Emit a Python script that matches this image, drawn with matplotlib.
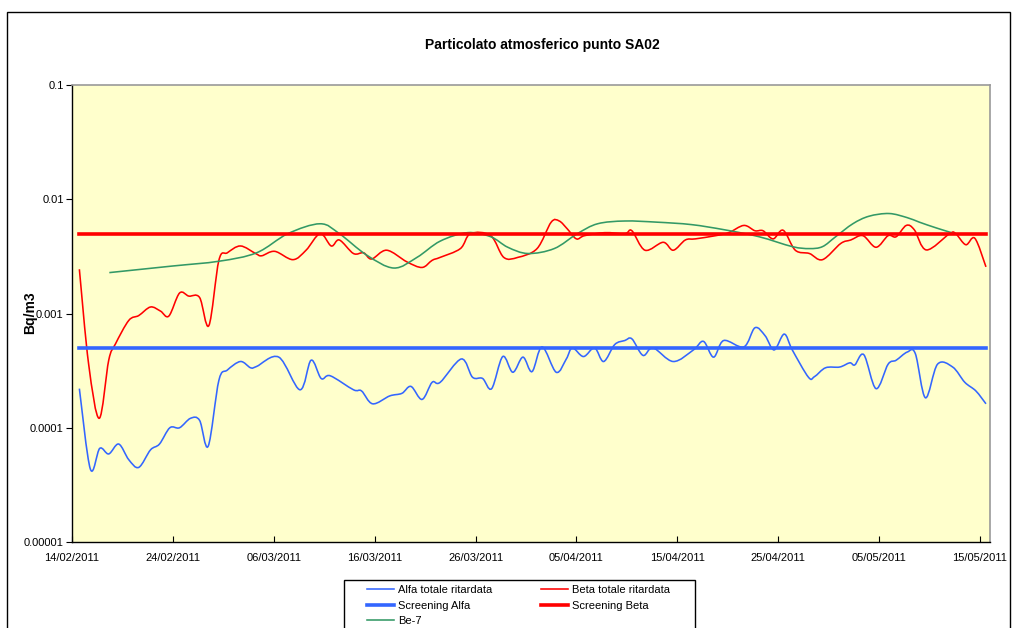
"""
Particolato atmosferico punto SA02: alfa / beta totale ritardata, screening levels and Be-7.
Excel style log chart, values read off the original sheet chart.
"""

import matplotlib

matplotlib.use("Agg")

import math

import matplotlib.dates as mdates
import matplotlib.pyplot as plt
import pandas as pd
from matplotlib.lines import Line2D
from matplotlib.patches import PathPatch, Rectangle
from matplotlib.path import Path
from matplotlib.ticker import FixedLocator, FixedFormatter, NullLocator

plt.rcParams["font.family"] = ["Liberation Sans", "DejaVu Sans"]

START = pd.Timestamp("2011-02-14")
END = pd.Timestamp("2011-05-16")

# days after 14/02/2011
alfa_days = [0.73, 1.82, 2.75, 3.64, 4.63, 5.63, 6.62, 7.78, 8.67, 9.7, 10.66, 11.75, 12.65, 13.5,
             14.56, 15.4, 16.7, 17.7, 18.3, 20.5, 22.6, 23.7, 24.7, 25.6, 27.9, 28.7, 29.8, 31.5,
             32.7, 33.6, 34.7, 35.7, 36.5, 38.6, 39.7, 40.7, 41.6, 42.7, 43.7, 44.7, 45.6, 46.6,
             48.0, 49.0, 49.6, 50.7, 51.8, 52.7, 53.8, 54.8, 55.5, 56.6, 57.6, 59.6, 61.6, 62.6,
             63.6, 64.6, 66.6, 67.7, 68.7, 69.6, 70.6, 71.4, 73.0, 73.6, 74.7, 76.1, 77.1, 77.6,
             78.5, 79.7, 80.9, 81.7, 82.8, 83.6, 84.6, 85.8, 87.3, 88.5, 89.6, 90.6]
# Bq/m3 x 1e-4
alfa_vals = [2.2, 0.435, 0.66, 0.59, 0.72, 0.525, 0.45, 0.64, 0.72, 1.0, 1.0, 1.21, 1.16, 0.69,
             2.6, 3.2, 3.8, 3.35, 3.44, 4.15, 2.15, 3.9, 2.7, 2.85, 2.15, 2.1, 1.62, 1.9,
             2.0, 2.3, 1.77, 2.5, 2.5, 4.0, 2.77, 2.7, 2.2, 4.2, 3.06, 4.15, 3.1, 5.1,
             3.06, 4.0, 5.0, 4.2, 5.0, 3.8, 5.35, 5.8, 6.0, 4.3, 5.0, 3.8, 4.8, 5.7,
             4.15, 5.8, 5.1, 7.5, 6.4, 4.8, 6.6, 4.8, 2.77, 2.8, 3.35, 3.4, 3.7, 3.55,
             4.35, 2.2, 3.6, 3.9, 4.6, 4.45, 1.83, 3.6, 3.4, 2.5, 2.1, 1.62]

beta_days = [0.73, 1.65, 2.7, 3.64, 4.3, 5.63, 6.62, 7.78, 8.77, 9.6, 10.66, 11.58, 12.65, 13.57,
             14.56, 15.4, 16.7, 18.2, 18.8, 20.1, 21.9, 23.2, 24.6, 25.7, 26.5, 27.9, 28.9, 29.7,
             31.2, 33.2, 34.7, 35.7, 36.5, 38.5, 39.5, 41.5, 42.8, 44.2, 46.1, 47.5, 48.3, 49.1,
             50.0, 50.8, 52.8, 54.8, 55.5, 56.8, 58.6, 59.6, 60.8, 61.8, 63.8, 65.1, 66.6, 67.7,
             68.5, 69.5, 70.5, 71.7, 73.1, 74.4, 76.2, 77.2, 78.4, 79.7, 80.9, 81.7, 82.7, 83.5,
             84.7, 87.0, 87.6, 88.6, 89.5, 90.6]
# Bq/m3 x 1e-3
beta_vals = [2.44, 0.36, 0.121, 0.39, 0.54, 0.87, 0.96, 1.14, 1.05, 0.95, 1.51, 1.42, 1.38, 0.785,
             2.92, 3.4, 3.9, 3.35, 3.2, 3.5, 2.96, 3.58, 5.0, 3.9, 4.4, 3.35, 3.4, 3.0,
             3.58, 2.83, 2.53, 2.92, 3.1, 3.7, 5.0, 4.8, 3.1, 3.1, 3.7, 6.3, 6.45, 5.5,
             4.5, 4.8, 5.1, 5.0, 5.3, 3.58, 4.2, 3.58, 4.4, 4.5, 4.8, 5.1, 5.9, 5.3,
             5.3, 4.5, 5.35, 3.58, 3.35, 2.96, 4.1, 4.4, 4.8, 3.8, 4.8, 4.7, 5.9, 5.4,
             3.6, 5.0, 5.0, 4.0, 4.55, 2.56]

be7_days = [3.7, 9.9, 14.6, 18.3, 21.4, 24.6, 26.5, 29.2, 31.9, 34.2, 36.5, 39.2, 41.5, 43.2,
            45.2, 47.8, 50.1, 52.1, 54.8, 58.0, 61.4, 64.7, 68.1, 71.4, 73.1, 74.4, 75.7, 77.4,
            79.0, 81.0, 82.8, 84.0, 85.7, 87.5]
# Bq/m3 x 1e-3
be7_vals = [2.28, 2.6, 2.87, 3.4, 5.0, 6.1, 5.0, 3.25, 2.5, 3.1, 4.3, 5.1, 4.7, 3.8,
            3.35, 3.7, 5.0, 6.1, 6.45, 6.3, 6.0, 5.4, 4.7, 3.85, 3.7, 3.85, 4.7, 6.1,
            7.1, 7.5, 6.9, 6.3, 5.6, 5.0]

screening_days = [0.73, 90.6]
screening_alfa = 0.0005
screening_beta = 0.005

y_ticks = [0.00001, 0.0001, 0.001, 0.01, 0.1]
y_tick_labels = ["0.00001", "0.0001", "0.001", "0.01", "0.1"]

BLUE = "#3366ff"
RED = "#ff0000"
GREEN = "#339966"


def to_dates(days):
    return START + pd.to_timedelta(days, unit="D")


def smoothed_path(days, values) -> Path:
    """Excel-like 'smoothed line': Catmull-Rom segments as cubic Beziers (log y)."""
    xs = [mdates.date2num(d) for d in to_dates(days)]
    ys = [math.log10(v) for v in values]
    n = len(xs)
    verts = [(xs[0], values[0])]
    codes = [Path.MOVETO]
    for i in range(n - 1):
        x0, y0 = (xs[i - 1], ys[i - 1]) if i > 0 else (xs[i], ys[i])
        x1, y1 = xs[i], ys[i]
        x2, y2 = xs[i + 1], ys[i + 1]
        x3, y3 = (xs[i + 2], ys[i + 2]) if i + 2 < n else (x2, y2)
        c1 = (x1 + (x2 - x0) / 6, y1 + (y2 - y0) / 6)
        c2 = (x2 - (x3 - x1) / 6, y2 - (y3 - y1) / 6)
        for cx, cy in (c1, c2, (x2, y2)):
            verts.append((cx, 10 ** cy))
            codes.append(Path.CURVE4)
    return Path(verts, codes)


def main() -> None:
    fig = plt.figure(figsize=(10.16, 6.28), dpi=100)
    ax = fig.add_axes([72 / 1016, 1 - 542 / 628, 918 / 1016, 457 / 628])
    ax.set_facecolor("#ffffcc")

    thin = 1.15
    thick = 2.6
    ax.add_patch(PathPatch(smoothed_path(alfa_days, [v * 1e-4 for v in alfa_vals]),
                           fill=False, edgecolor=BLUE, lw=thin))
    ax.add_patch(PathPatch(smoothed_path(beta_days, [v * 1e-3 for v in beta_vals]),
                           fill=False, edgecolor=RED, lw=thin))
    ax.plot(to_dates(screening_days), [screening_alfa] * 2, color=BLUE, lw=thick)
    ax.plot(to_dates(screening_days), [screening_beta] * 2, color=RED, lw=thick)
    ax.add_patch(PathPatch(smoothed_path(be7_days, [v * 1e-3 for v in be7_vals]),
                           fill=False, edgecolor=GREEN, lw=thin))

    ax.set_yscale("log")
    ax.set_ylim(y_ticks[0], y_ticks[-1])
    ax.yaxis.set_major_locator(FixedLocator(y_ticks))
    ax.yaxis.set_major_formatter(FixedFormatter(y_tick_labels))
    ax.yaxis.set_minor_locator(NullLocator())

    ax.set_xlim(START, END)
    ax.set_xticks(pd.date_range(START, periods=10, freq="10D"))
    ax.xaxis.set_major_formatter(mdates.DateFormatter("%d/%m/%Y"))

    ax.tick_params(axis="y", direction="out", length=4, width=0.8, labelsize=8, pad=2)
    ax.tick_params(axis="x", direction="in", length=4, width=0.8, labelsize=8, pad=8)
    ax.spines["left"].set_color("black")
    ax.spines["bottom"].set_color("black")
    ax.spines["left"].set_linewidth(1.0)
    ax.spines["bottom"].set_linewidth(1.0)
    for side in ("top", "right"):
        ax.spines[side].set_color("#999999")
        ax.spines[side].set_linewidth(1.2)

    fig.text(30 / 1016, 1 - 313 / 628, "Bq/m3", rotation=90, ha="center", va="center",
             fontsize=10, fontweight="bold")
    fig.text(542 / 1016, 1 - 45 / 628, "Particolato atmosferico punto SA02",
             ha="center", va="center", fontsize=10, fontweight="bold")

    # outer chart frame and legend frame (both run off the bottom of the picture)
    fig.patches.append(Rectangle((7 / 1016, -0.1), 1003 / 1016, 1.1 - 12 / 628,
                                 transform=fig.transFigure, fill=False,
                                 edgecolor="black", lw=1.0, clip_on=False))
    fig.patches.append(Rectangle((344 / 1016, -0.1), 351 / 1016, 0.1 + 1 - 580 / 628,
                                 transform=fig.transFigure, fill=False,
                                 edgecolor="black", lw=1.0, clip_on=False))

    handles = [
        Line2D([], [], color=BLUE, lw=thin),
        Line2D([], [], color=BLUE, lw=thick),
        Line2D([], [], color=GREEN, lw=thin),
        Line2D([], [], color=RED, lw=thin),
        Line2D([], [], color=RED, lw=thick),
    ]
    labels = ["Alfa totale ritardata", "Screening Alfa", "Be-7",
              "Beta totale ritardata", "Screening Beta"]
    fig.legend(handles, labels, loc="upper left", ncol=2,
               bbox_to_anchor=(367 / 1016, 1 - 585 / 628),
               fontsize=8, frameon=False, handlelength=2.45,
               handletextpad=0.35, borderaxespad=0.0, borderpad=0.0,
               labelspacing=0.5, columnspacing=4.4)

    fig.savefig("out.png", dpi=100, facecolor="white")


if __name__ == "__main__":
    main()
